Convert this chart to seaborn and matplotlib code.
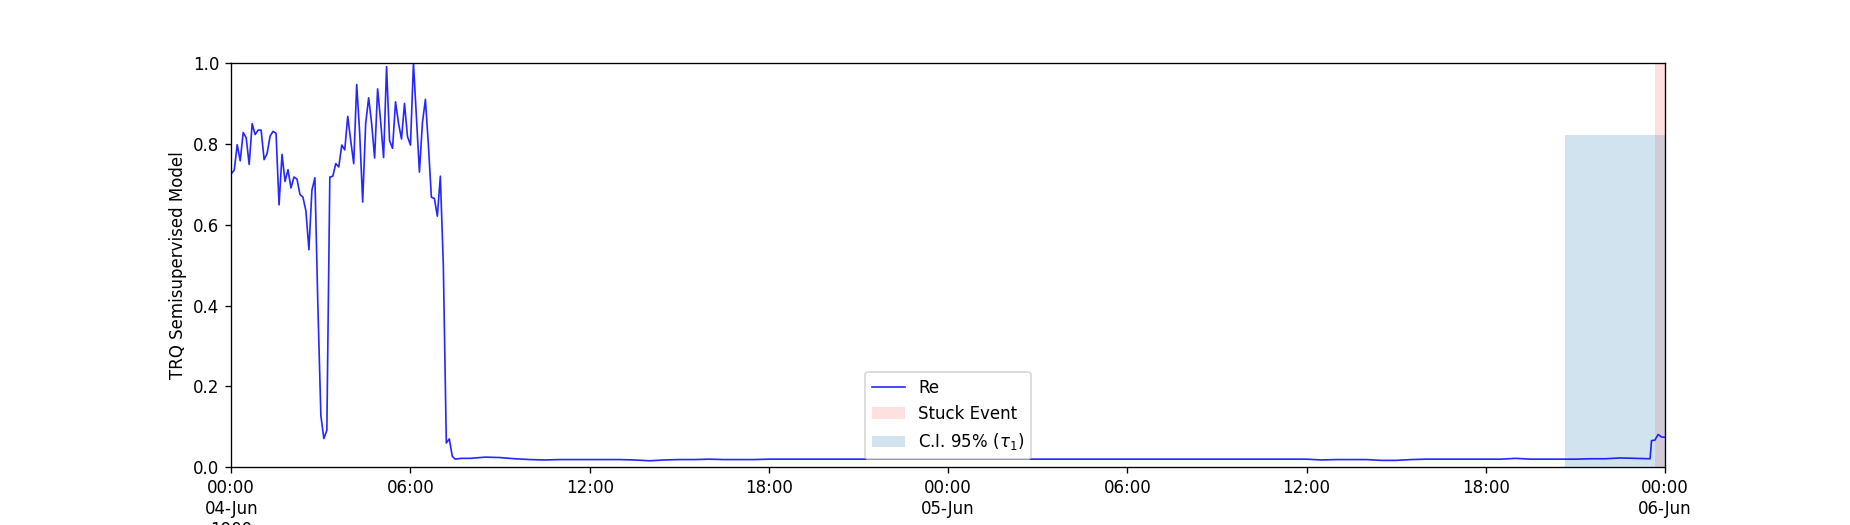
import matplotlib

matplotlib.use("Agg")
import matplotlib.dates as mdates
import numpy as np
import pandas as pd
import seaborn as sns
from matplotlib import pyplot as plt
from matplotlib.ticker import FuncFormatter


START = pd.Timestamp("1900-06-04 00:00")

# hours since start, 6-minute samples during the active period
ACTIVE_HOURS = [round(0.1 * i, 1) for i in range(79)]
ACTIVE_SCORE = [
    0.726, 0.735, 0.798, 0.758, 0.828, 0.815, 0.749, 0.850, 0.823, 0.834,
    0.834, 0.761, 0.776, 0.819, 0.831, 0.826, 0.649, 0.774, 0.707, 0.736,
    0.691, 0.718, 0.713, 0.675, 0.668, 0.634, 0.538, 0.685, 0.716, 0.400,
    0.128, 0.071, 0.091, 0.718, 0.720, 0.751, 0.743, 0.797, 0.785, 0.868,
    0.808, 0.751, 0.947, 0.826, 0.656, 0.850, 0.914, 0.850, 0.765, 0.936,
    0.857, 0.766, 0.991, 0.808, 0.789, 0.904, 0.851, 0.812, 0.900, 0.818,
    0.797, 1.000, 0.863, 0.730, 0.852, 0.910, 0.797, 0.668, 0.665, 0.621,
    0.720, 0.500, 0.060, 0.070, 0.027, 0.020, 0.021, 0.022, 0.022,
]

# quiet period, half-hour samples
QUIET_HOURS = [8.0 + 0.5 * i for i in range(79)]
QUIET_SCORE = [
    0.022, 0.025, 0.024, 0.021, 0.019, 0.018, 0.019, 0.019, 0.019, 0.019,
    0.019, 0.018, 0.016, 0.018, 0.019, 0.019, 0.020, 0.019, 0.019, 0.019,
    0.020, 0.020, 0.020, 0.020, 0.020, 0.020, 0.020, 0.020, 0.020, 0.020,
    0.020, 0.020, 0.020, 0.020, 0.020, 0.020, 0.020, 0.020, 0.020, 0.020,
    0.020, 0.020, 0.020, 0.020, 0.020, 0.020, 0.020, 0.020, 0.020, 0.020,
    0.020, 0.020, 0.020, 0.020, 0.020, 0.020, 0.020, 0.018, 0.019, 0.019,
    0.019, 0.017, 0.017, 0.019, 0.020, 0.020, 0.020, 0.020, 0.020, 0.020,
    0.022, 0.020, 0.020, 0.020, 0.020, 0.021, 0.021, 0.023, 0.022,
]

# last half hour before the event
END_HOURS = [47.5, 47.55, 47.66, 47.77, 47.88, 48.0]
END_SCORE = [0.021, 0.066, 0.067, 0.081, 0.075, 0.074]

STUCK_HOURS = (47.66, 48.0)
CI_HOURS = (44.65, 48.0)
CI_HEIGHT = 0.823


def _frame() -> pd.DataFrame:
    hours = ACTIVE_HOURS + QUIET_HOURS + END_HOURS
    score = ACTIVE_SCORE + QUIET_SCORE + END_SCORE
    times = START + pd.to_timedelta(np.array(hours), unit="h")
    return pd.DataFrame({"time": times, "score": score})


def _date_label(x, pos):
    dt = mdates.num2date(x)
    label = dt.strftime("%H:%M")
    if dt.hour == 0 and dt.minute == 0:
        label += "\n" + dt.strftime("%d-%b")
        if pos == 0:
            label += "\n" + dt.strftime("%Y")
    return label


def main() -> None:
    df = _frame()
    fig, ax = plt.subplots(figsize=(1850 / 120, 525 / 120), dpi=120)

    sns.lineplot(data=df, x="time", y="score", color="blue", linewidth=1.0,
                 alpha=0.85, label="Re", ax=ax)

    hr = lambda h: START + pd.Timedelta(hours=h)
    ax.axvspan(hr(STUCK_HOURS[0]), hr(STUCK_HOURS[1]), color="red", alpha=0.12,
               lw=0, label="Stuck Event")
    ax.axvspan(hr(CI_HOURS[0]), hr(CI_HOURS[1]), ymax=CI_HEIGHT, color="tab:blue",
               alpha=0.2, lw=0, label=r"C.I. 95% ($\tau_1$)")

    ax.set_xlim(df["time"].iloc[0], df["time"].iloc[-1])
    ax.set_ylim(0, 1)
    ax.xaxis.set_major_locator(mdates.HourLocator(byhour=[0, 6, 12, 18]))
    ax.xaxis.set_major_formatter(FuncFormatter(_date_label))
    ax.set_xlabel("")
    ax.set_ylabel("TRQ Semisupervised Model")
    ax.legend(loc="lower center")

    fig.savefig("out.png", dpi=120)
    plt.close(fig)


if __name__ == "__main__":
    main()
